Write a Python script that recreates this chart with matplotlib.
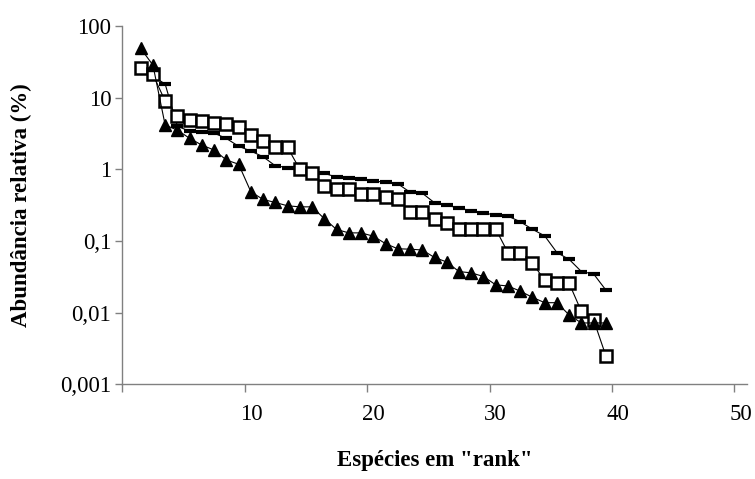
import numpy as np
import matplotlib
matplotlib.use('Agg')
import matplotlib.pyplot as plt
from matplotlib.ticker import FixedLocator, FixedFormatter, NullFormatter

# relative abundance (%) of each species, ordered by rank
rank = np.arange(1, 40)

abund_triangle = [48.7, 28.5, 4.15, 3.53, 2.71, 2.18, 1.86, 1.35, 1.18, 0.487,
                  0.38, 0.345, 0.31, 0.30, 0.30, 0.205, 0.145, 0.13, 0.13, 0.117,
                  0.092, 0.078, 0.077, 0.075, 0.059, 0.051, 0.0375, 0.036, 0.032, 0.0245,
                  0.0236, 0.020, 0.0164, 0.0138, 0.0138, 0.0093, 0.0072, 0.0072, 0.0072]

abund_square = [26.1, 21.1, 8.97, 5.54, 4.87, 4.76, 4.38, 4.3, 3.9, 3.01,
                2.45, 2.07, 2.02, 1.0, 0.88, 0.59, 0.54, 0.54, 0.46, 0.46,
                0.407, 0.39, 0.256, 0.253, 0.20, 0.18, 0.147, 0.147, 0.147, 0.147,
                0.069, 0.069, 0.049, 0.0285, 0.0257, 0.0257, 0.0104, 0.0079, 0.0025]

abund_dash = [25.0, 20.0, 15.5, 4.0, 3.4, 3.3, 3.2, 2.7, 2.1, 1.8,
              1.5, 1.12, 1.06, 0.97, 0.92, 0.88, 0.78, 0.75, 0.73, 0.69,
              0.66, 0.63, 0.48, 0.465, 0.342, 0.315, 0.289, 0.265, 0.249, 0.228,
              0.223, 0.186, 0.146, 0.118, 0.069, 0.0555, 0.0375, 0.0347, 0.0207]

y_ticks = [0.001, 0.01, 0.1, 1, 10, 100]
y_labels = ['0,001', '0,01', '0,1', '1', '10', '100']
x_labels = [10, 20, 30, 40, 50]

plt.rcParams['font.family'] = ['Liberation Serif', 'DejaVu Serif']

fig = plt.figure(figsize=(7.55, 4.79), dpi=100)
ax = fig.add_axes([0.162, 0.1975, 0.827, 0.7482])

ax.plot(rank, abund_dash, color='black', lw=0.8, marker='_', ms=9,
        mew=3, zorder=2)
ax.plot(rank, abund_square, color='black', lw=0.8, marker='s', ms=8.3,
        mfc='white', mec='black', mew=1.8, zorder=3)
ax.plot(rank, abund_triangle, color='black', lw=0.8, marker='^', ms=8.6,
        mfc='black', mec='black', zorder=4)

ax.set_yscale('log')
ax.set_ylim(0.001, 100)
ax.yaxis.set_major_locator(FixedLocator(y_ticks))
ax.yaxis.set_major_formatter(FixedFormatter(y_labels))
ax.yaxis.set_minor_locator(FixedLocator([]))
ax.yaxis.set_minor_formatter(NullFormatter())

# category-style x axis: tick marks sit between categories
ax.set_xlim(-0.5, 50.5)
ax.xaxis.set_major_locator(FixedLocator(x_labels))
ax.xaxis.set_minor_locator(FixedLocator(np.arange(-0.5, 50, 10)))
ax.tick_params(axis='x', which='major', length=0, pad=14, labelsize=16.5)
ax.tick_params(axis='x', which='minor', length=6, width=1, color='#808080')
ax.tick_params(axis='y', which='major', length=5, width=1, color='#808080',
               pad=3, labelsize=16.5)

for side in ['top', 'right']:
    ax.spines[side].set_visible(False)
for side in ['left', 'bottom']:
    ax.spines[side].set_color('#808080')
    ax.spines[side].set_linewidth(1)

ax.set_xlabel('Espécies em "rank"', fontsize=16.5, fontweight='bold', labelpad=18)
ax.set_ylabel('Abundância relativa (%)', fontsize=16.5, fontweight='bold', labelpad=20)

fig.savefig('out.png', dpi=100)
